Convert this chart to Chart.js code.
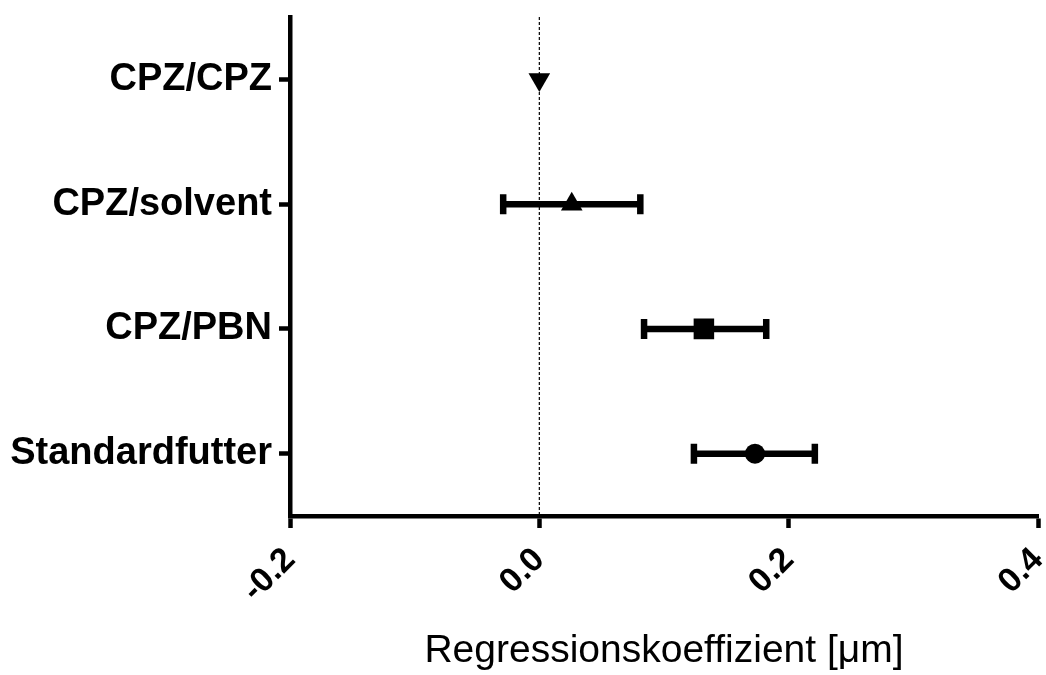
<!DOCTYPE html>
<html>
<head>
<meta charset="utf-8">
<script src="https://cdn.jsdelivr.net/npm/chart.js@4"></script>
<style>
  html, body { margin: 0; padding: 0; background: #fff; }
  #wrap { width: 1046px; height: 675px; }
</style>
</head>
<body>
<div id="wrap"><canvas id="forestChart" width="1046" height="675"></canvas></div>
<script>
// Gruppen (von oben nach unten)
const categories = ['CPZ/CPZ', 'CPZ/solvent', 'CPZ/PBN', 'Standardfutter'];
// Regressionskoeffizienten (Mittelwert) und Fehlerbalken
const means = [0.0, 0.026, 0.132, 0.173];
const lower = [null, -0.029, 0.084, 0.124];
const upper = [null, 0.081, 0.182, 0.221];
// Markerformen je Gruppe
const markers = ['triangle', 'triangle', 'rect', 'circle'];
const markerRotation = [180, 0, 0, 0];
const markerRadius = [12.5, 12.5, 14.5, 10];
// Achsenbeschriftung
const xTicks = [-0.2, 0.0, 0.2, 0.4];

const points = categories.map((c, i) => ({ x: means[i], y: c }));

// Fehlerbalken und Nulllinie über die Skalen zeichnen
const errorBars = {
    id: 'errorBars',
    beforeDatasetsDraw(chart) {
        const { ctx, scales: { x, y } } = chart;
        ctx.save();
        // gestrichelte Linie bei 0
        const x0 = x.getPixelForValue(0);
        ctx.strokeStyle = '#000';
        ctx.lineWidth = 1.2;
        ctx.setLineDash([3, 2]);
        ctx.beginPath();
        ctx.moveTo(x0, chart.chartArea.top);
        ctx.lineTo(x0, chart.chartArea.bottom);
        ctx.stroke();
        ctx.setLineDash([]);

        categories.forEach((c, i) => {
            if (lower[i] === null) return;
            const yp = y.getPixelForValue(i);
            const xl = x.getPixelForValue(lower[i]);
            const xh = x.getPixelForValue(upper[i]);
            ctx.lineWidth = 6.5;
            ctx.beginPath();
            ctx.moveTo(xl, yp);
            ctx.lineTo(xh, yp);
            ctx.stroke();
            // Kappen
            ctx.beginPath();
            ctx.moveTo(xl, yp - 10);
            ctx.lineTo(xl, yp + 10);
            ctx.moveTo(xh, yp - 10);
            ctx.lineTo(xh, yp + 10);
            ctx.stroke();
        });
        ctx.restore();
    }
};

const ctx = document.getElementById('forestChart').getContext('2d');
new Chart(ctx, {
    type: 'scatter',
    data: {
        datasets: [{
            data: points,
            pointStyle: markers,
            rotation: markerRotation,
            pointRadius: markerRadius,
            pointHoverRadius: markerRadius,
            backgroundColor: '#000',
            borderColor: '#000',
            borderWidth: 0
        }]
    },
    options: {
        responsive: false,
        animation: false,
        layout: { autoPadding: false, padding: { left: 0, right: 8, top: 17, bottom: 0 } },
        plugins: {
            legend: { display: false },
            tooltip: { enabled: false }
        },
        scales: {
            x: {
                type: 'linear',
                min: -0.2,
                max: 0.4,
                afterBuildTicks: (s) => { s.ticks = xTicks.map(v => ({ value: v })); },
                afterFit: (s) => {
                    s.height = 159;
                    s.paddingLeft = 0;
                    s.paddingRight = 0;
                },
                grid: {
                    drawOnChartArea: false,
                    drawTicks: true,
                    tickLength: 12,
                    tickWidth: 4.5,
                    color: '#000'
                },
                border: { display: true, color: '#000', width: 4.5 },
                ticks: {
                    color: '#000',
                    minRotation: 45,
                    maxRotation: 45,
                    padding: 12,
                    font: { family: 'Liberation Sans, Arial, sans-serif', size: 34, weight: 'bold' },
                    callback: (v) => Number(v).toFixed(1)
                },
                title: {
                    display: true,
                    text: 'Regressionskoeffizient [μm]',
                    color: '#000',
                    padding: { top: 0, bottom: 0 },
                    font: { family: 'Liberation Sans, Arial, sans-serif', size: 39 }
                }
            },
            y: {
                type: 'category',
                labels: categories,
                offset: true,
                afterFit: (s) => {
                    s.width = 290;
                    s.paddingTop = 0;
                    s.paddingBottom = 0;
                },
                grid: {
                    drawOnChartArea: false,
                    drawTicks: true,
                    tickLength: 11,
                    tickWidth: 4.5,
                    color: '#000'
                },
                border: { display: true, color: '#000', width: 4.5 },
                ticks: {
                    color: '#000',
                    padding: 7,
                    font: { family: 'Liberation Sans, Arial, sans-serif', size: 38, weight: 'bold' }
                }
            }
        }
    },
    plugins: [errorBars]
});
</script>
</body>
</html>
